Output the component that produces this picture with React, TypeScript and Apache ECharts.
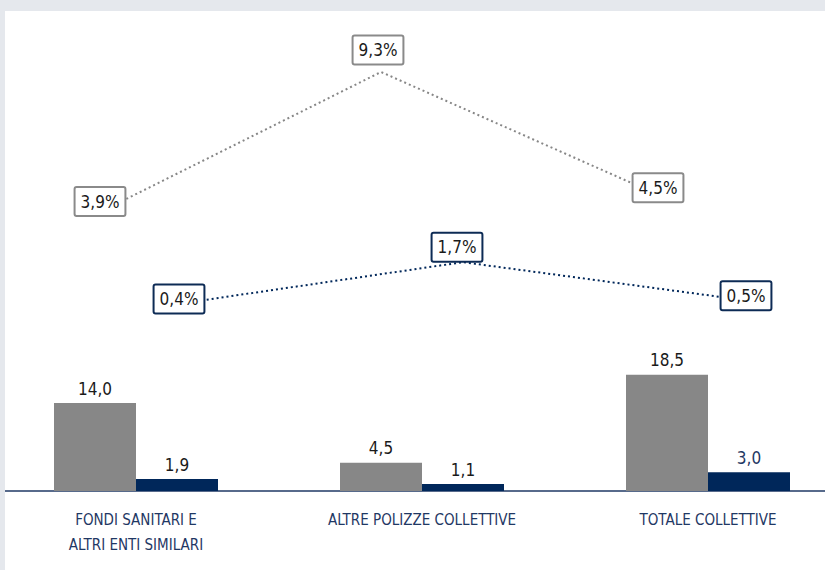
import React, { useEffect, useRef } from "react";
import * as echarts from "echarts";

const categories = ["FONDI SANITARI E\nALTRI ENTI SIMILARI", "ALTRE POLIZZE COLLETTIVE", "TOTALE COLLETTIVE"];
const grayBars = [14.0, 4.5, 18.5];
const navyBars = [1.9, 1.1, 3.0];
const grayLine = [3.9, 9.3, 4.5];
const navyLine = [0.4, 1.7, 0.5];
const grayLineOffsets = [[5, -13], [-3, -22], [-9, -11]];
const navyLineOffsets = [[2, -5], [-6, -15], [-3, -5]];

const GRAY = "#878787";
const NAVY = "#00275a";
const TEXT_NAVY = "#1f3864";
const FONT = "'DejaVu Sans Condensed', 'Liberation Sans Narrow', 'Liberation Sans', sans-serif";
const SHIFT = 100;

const fmt = (v: number, d: number) => v.toFixed(d).replace(".", ",");

export default function App() {
  const ref = useRef<HTMLDivElement>(null);
  useEffect(() => {
    if (!ref.current) return;
    const chart = echarts.init(ref.current, undefined, { renderer: "svg" });
    const boxLabel = (border: string) => ({
      show: true,
      position: "inside",
      fontFamily: FONT,
      fontSize: 17,
      color: "#1a1a1a",
      backgroundColor: "#ffffff",
      borderColor: border,
      borderWidth: 2,
      borderRadius: 1,
      padding: [4, 5, 3, 5],
      lineHeight: 20,
    });
    chart.setOption({
      animation: false,
      backgroundColor: "#ffffff",
      graphic: [
        { type: "rect", z: 100, shape: { x: SHIFT, y: 0, width: 825, height: 11 }, style: { fill: "#e5e8ed" } },
        { type: "rect", z: 100, shape: { x: 0, y: 0, width: SHIFT + 5, height: 570 }, style: { fill: "#e5e8ed" } },
      ],
      grid: [
        { left: SHIFT - 7, width: 858, top: 365.4, height: 125.6 },
        { left: SHIFT - 48, width: 858, top: 53.5, height: 264 },
        { left: SHIFT + 34, width: 858, top: 252.5, height: 64.4 },
      ],
      xAxis: [
        {
          type: "category",
          gridIndex: 0,
          data: categories,
          axisLine: { show: true, lineStyle: { color: TEXT_NAVY, width: 1.5 } },
          axisTick: { show: false },
          axisLabel: {
            interval: 0,
            color: TEXT_NAVY,
            fontFamily: FONT,
            fontSize: 15,
            lineHeight: 25,
            margin: 16,
          },
        },
        { type: "category", gridIndex: 1, data: categories, show: false },
        { type: "category", gridIndex: 2, data: categories, show: false },
      ],
      yAxis: [
        { type: "value", gridIndex: 0, min: 0, max: 20, show: false },
        { type: "value", gridIndex: 1, min: 0, max: 10, show: false },
        { type: "value", gridIndex: 2, min: 0, max: 2, show: false },
      ],
      series: [
        {
          type: "bar",
          xAxisIndex: 0,
          yAxisIndex: 0,
          data: grayBars,
          barWidth: 82,
          barGap: "0%",
          itemStyle: { color: GRAY },
          label: {
            show: true,
            position: "top",
            distance: 6,
            fontFamily: FONT,
            fontSize: 17,
            color: "#1a1a1a",
            formatter: (p: any) => fmt(p.value, 1),
          },
        },
        {
          type: "bar",
          xAxisIndex: 0,
          yAxisIndex: 0,
          data: navyBars.map((v, i) => ({
            value: v,
            label: { color: i === 2 ? TEXT_NAVY : "#1a1a1a" },
          })),
          barWidth: 82,
          barGap: "0%",
          itemStyle: { color: NAVY },
          label: {
            show: true,
            position: "top",
            distance: 6,
            fontFamily: FONT,
            fontSize: 17,
            formatter: (p: any) => fmt(p.value, 1),
          },
        },
        {
          type: "line",
          xAxisIndex: 1,
          yAxisIndex: 1,
          z: 5,
          symbol: "circle",
          symbolSize: 0.1,
          itemStyle: { color: GRAY },
          lineStyle: { color: GRAY, width: 2, type: [2, 3] },
          data: grayLine.map((v, i) => ({ value: v, label: { offset: grayLineOffsets[i] } })),
          label: { ...boxLabel("#8a8a8a"), formatter: (p: any) => fmt(p.value, 1) + "%" },
        },
        {
          type: "line",
          xAxisIndex: 2,
          yAxisIndex: 2,
          z: 5,
          symbol: "circle",
          symbolSize: 0.1,
          itemStyle: { color: NAVY },
          lineStyle: { color: NAVY, width: 2, type: [2, 3] },
          data: navyLine.map((v, i) => ({ value: v, label: { offset: navyLineOffsets[i] } })),
          label: { ...boxLabel("#0d2b55"), formatter: (p: any) => fmt(p.value, 1) + "%" },
        },
      ],
    });
    return () => chart.dispose();
  }, []);
  return (
    <div style={{ position: "absolute", left: 0, top: 0, width: 825, height: 570, overflow: "hidden" }}>
      <div
        ref={ref}
        style={{ position: "absolute", left: -SHIFT, top: 0, width: 825 + SHIFT * 2, height: 570, background: "#fff" }}
      />
    </div>
  );
}
